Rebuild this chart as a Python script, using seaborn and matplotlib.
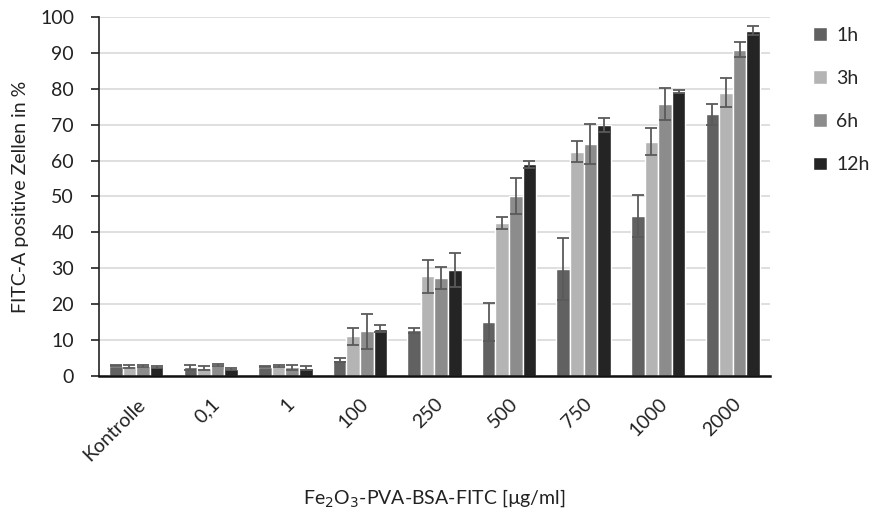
import numpy as np
import pandas as pd
import matplotlib
matplotlib.use("Agg")
import matplotlib.pyplot as plt
import seaborn as sns

categories = ["Kontrolle", "0,1", "1", "100", "250", "500", "750", "1000", "2000"]
series = ["1h", "3h", "6h", "12h"]
vals_1h = [2.9, 2.5, 2.6, 4.5, 12.7, 15.0, 29.8, 44.6, 72.9]
vals_3h = [2.7, 2.3, 2.7, 11.0, 27.8, 42.6, 62.5, 65.3, 78.9]
vals_6h = [2.7, 3.0, 2.5, 12.4, 27.3, 50.2, 64.6, 75.8, 90.9]
vals_12h = [2.5, 2.0, 2.2, 13.2, 29.6, 59.0, 69.9, 79.2, 96.2]
err_1h = [0.2, 0.7, 0.2, 0.5, 0.6, 5.2, 8.6, 5.9, 2.9]
err_3h = [0.4, 0.5, 0.3, 2.5, 4.6, 1.7, 2.9, 3.8, 4.1]
err_6h = [0.3, 0.3, 0.7, 5.0, 3.1, 5.0, 5.6, 4.5, 2.0]
err_12h = [0.2, 0.2, 0.6, 1.0, 4.7, 1.0, 1.9, 0.4, 1.2]
colors = ["#616161", "#b4b4b4", "#8c8c8c", "#242424"]

vals = [vals_1h, vals_3h, vals_6h, vals_12h]
errs = [err_1h, err_3h, err_6h, err_12h]
rows = []
for s, v, e in zip(series, vals, errs):
    for c, vi, ei in zip(categories, v, e):
        rows.append({"cat": c, "series": s, "value": vi, "err": ei})
df = pd.DataFrame(rows)

sns.set_theme(style="white")
plt.rcParams["font.family"] = ["Lato", "DejaVu Sans"]

fig = plt.figure(figsize=(8.76, 5.14), dpi=100)
ax = fig.add_axes([0.113, 0.2685, 0.766, 0.6985])

sns.barplot(data=df, x="cat", y="value", hue="series", order=categories,
            hue_order=series, palette=colors, width=0.73, gap=0,
            errorbar=None, saturation=1, ax=ax, legend=True, zorder=2)

# error bars positioned on the bar centers
for i, s in enumerate(series):
    cont = ax.containers[i]
    xs = [p.get_x() + p.get_width() / 2 for p in cont.patches]
    ax.errorbar(xs, vals[i], yerr=errs[i], fmt="none", ecolor="#5a5a5a",
                elinewidth=1.3, capsize=4, capthick=1.3, zorder=3)

ax.set_ylim(0, 100)
ax.set_yticks(range(0, 101, 10))
ax.set_xlim(-0.5, len(categories) - 0.5)
ax.yaxis.grid(True, color="#d9d9d9", linewidth=1.2, zorder=0)
ax.set_axisbelow(True)
for sp in ["top", "right"]:
    ax.spines[sp].set_visible(False)
ax.spines["left"].set_color("#222222")
ax.spines["bottom"].set_color("#111111")
ax.spines["left"].set_linewidth(1.2)
ax.spines["bottom"].set_linewidth(1.8)
fs = 14
ax.tick_params(axis="y", which="major", left=True, length=6, width=1.2,
               color="#222222", labelsize=fs, labelcolor="#222222", pad=12)
ax.tick_params(axis="x", bottom=False, labelsize=fs, labelcolor="#222222", pad=8)
plt.setp(ax.get_xticklabels(), rotation=45, ha="right", rotation_mode="anchor")

ax.set_ylabel("FITC-A positive Zellen in %", fontsize=fs, color="#222222", labelpad=8)
ax.set_xlabel("Fe$_2$O$_3$-PVA-BSA-FITC [µg/ml]", fontsize=fs, color="#222222",
              labelpad=17)

handles, labels = ax.get_legend_handles_labels()
ax.legend(handles, labels, loc="upper left", bbox_to_anchor=(1.052, 0.995),
          frameon=False, fontsize=fs, handlelength=0.72, handleheight=0.72,
          handletextpad=0.5, labelspacing=1.35, borderaxespad=0)

fig.savefig("out.png", dpi=100)
